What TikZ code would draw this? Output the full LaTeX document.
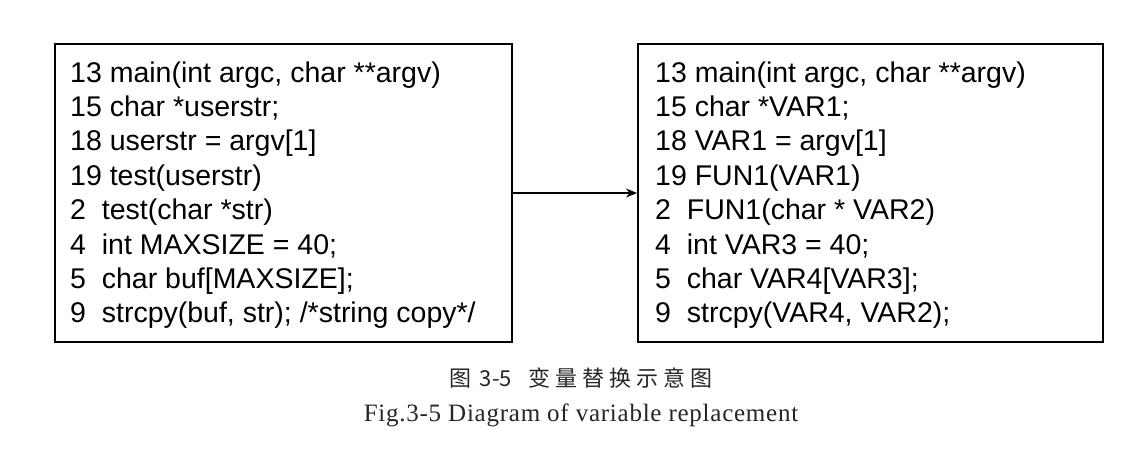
\documentclass[tikz,border=0pt]{standalone}
\usepackage{fontspec}
\setmainfont{Liberation Sans}
\newfontfamily\codefont{Liberation Sans}
\newfontfamily\capfont[LetterSpace=3]{Liberation Serif}
\newfontfamily\cjk{Noto Sans CJK SC}
\usetikzlibrary{arrows.meta}
\tikzset{
  codebox/.style={draw=black, line width=2pt, rectangle, inner sep=0pt},
  codeline/.style={anchor=base west, inner sep=0pt, font=\codefont\fontsize{28.5pt}{34pt}\selectfont, text=black},
  conn/.style={line width=1.3pt, -{Stealth[length=11pt,width=9pt]}},
  captxt/.style={anchor=base, inner sep=0pt}
}
\begin{document}
\begin{tikzpicture}[x=1pt,y=-1pt]
\useasboundingbox (0,0) rectangle (1141,455);
\fill[white] (0,0) rectangle (1141,455);
\node[codebox, minimum width=457pt, minimum height=298pt] (L) at (283.5,193) {};
\node[codebox, minimum width=465pt, minimum height=298pt] (R) at (870.5,193) {};
\foreach \t [count=\i] in {
  13 main(int argc{,} char **argv),
  15 char *userstr;,
  18 userstr = argv[1],
  19 test(userstr),
  2~~test(char *str),
  4~~int MAXSIZE = 40;,
  5~~char buf[MAXSIZE];,
  9~~strcpy(buf{,} str); /*string copy*/}
  {\node[codeline] (l\i) at (70,{82+(\i-1)*34.4}) {\t};}
\foreach \t [count=\i] in {
  13 main(int argc{,} char **argv),
  15 char *VAR1;,
  18 VAR1 = argv[1],
  19 FUN1(VAR1),
  2~~FUN1(char * VAR2),
  4~~int VAR3 = 40;,
  5~~char VAR4[VAR3];,
  9~~strcpy(VAR4{,} VAR2);}
  {\node[codeline] (r\i) at (655,{82+(\i-1)*34.4}) {\t};}
\draw[conn] (L.east) -- (R.west);
\node[captxt, font=\cjk\fontsize{22pt}{26pt}\selectfont, text=black!85] (cap1) at (581,386)
  {图\hspace{8pt}3-5\hspace{16pt}变\hspace{5pt}量\hspace{5pt}替\hspace{5pt}换\hspace{5pt}示\hspace{5pt}意\hspace{5pt}图};
\node[captxt, font=\capfont\fontsize{25pt}{29pt}\selectfont, text=black!85] (cap2) at (581,421)
  {Fig.3-5 Diagram of variable replacement};
\end{tikzpicture}
\end{document}
